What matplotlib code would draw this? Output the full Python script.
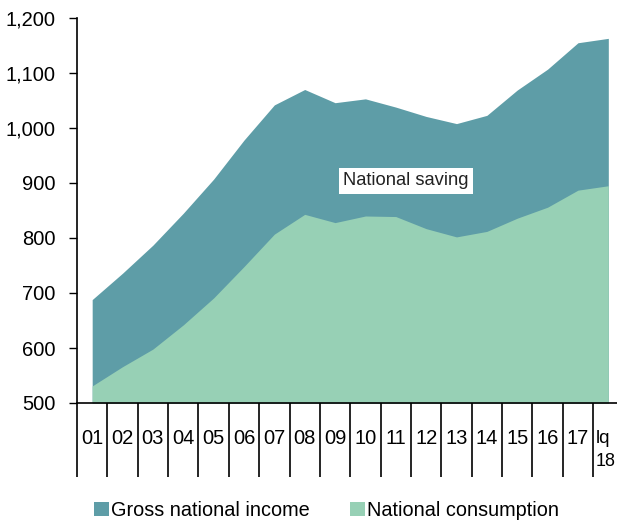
import matplotlib
matplotlib.use("Agg")
import matplotlib.pyplot as plt
from matplotlib.patches import Patch
import numpy as np

plt.rcParams['font.family'] = ['Liberation Sans', 'DejaVu Sans']

categories = ["01", "02", "03", "04", "05", "06", "07", "08", "09", "10",
              "11", "12", "13", "14", "15", "16", "17", "lq\n18"]
gross_national_income = [688, 736, 787, 845, 907, 978, 1042, 1070, 1046, 1053,
                         1038, 1021, 1008, 1023, 1069, 1107, 1155, 1163]
national_consumption = [531, 566, 598, 642, 691, 748, 807, 843, 828, 840,
                        839, 817, 802, 812, 836, 856, 887, 895]
y_ticks = [500, 600, 700, 800, 900, 1000, 1100, 1200]

dark = "#5E9DA7"
light = "#97D0B5"

fig = plt.figure(figsize=(6.17, 5.24), dpi=100)
ax = fig.add_axes([77/617, 121/524, 546.5/617, 385/524])

x = np.arange(len(categories))
ax.fill_between(x, 500, gross_national_income, color=dark, linewidth=0)
ax.fill_between(x, 500, national_consumption, color=light, linewidth=0)

ax.set_xlim(-0.5, len(categories) - 0.5)
ax.set_ylim(500, 1200)
ax.set_yticks(y_ticks)
ax.set_yticklabels([f"{v:,}" for v in y_ticks], fontsize=14.5)
ax.tick_params(axis='y', direction='out', length=5.5, width=1, pad=10, colors='black')
ax.set_xticks([])

for s in ['top', 'right']:
    ax.spines[s].set_visible(False)
ax.spines['left'].set_linewidth(1.2)
ax.spines['bottom'].set_linewidth(1.2)

# category separators below axis
trans = ax.get_xaxis_transform()
for b in np.arange(-0.5, len(categories) - 0.5, 1.0):
    ax.plot([b, b], [0, -0.193], transform=trans, color='black', lw=1.2,
            clip_on=False, solid_capstyle='butt')

for i, lab in enumerate(categories):
    if "\n" in lab:
        top, bot = lab.split("\n")
        xl = i - 0.5 + 0.09
        ax.text(xl, -0.092, top, transform=trans, ha='left', va='center', fontsize=13.5)
        ax.text(xl, -0.152, bot, transform=trans, ha='left', va='center', fontsize=13)
    else:
        ax.text(i, -0.092, lab, transform=trans, ha='center', va='center', fontsize=14.5)

ax.text(10.34, 904, "National saving", ha='center', va='center', fontsize=13.2,
        color='#222222',
        bbox=dict(boxstyle='square,pad=0.25', facecolor='white', edgecolor='none'))

handles = [Patch(facecolor=dark, edgecolor='none', label='Gross national income'),
           Patch(facecolor=light, edgecolor='none', label='National consumption')]
fig.legend(handles=handles, loc='center', bbox_to_anchor=(0.529, 0.026), ncol=2,
           frameon=False, fontsize=14.3, handlelength=0.75, handleheight=0.75,
           handletextpad=0.1, columnspacing=2.0)

fig.savefig("out.png", dpi=100)
